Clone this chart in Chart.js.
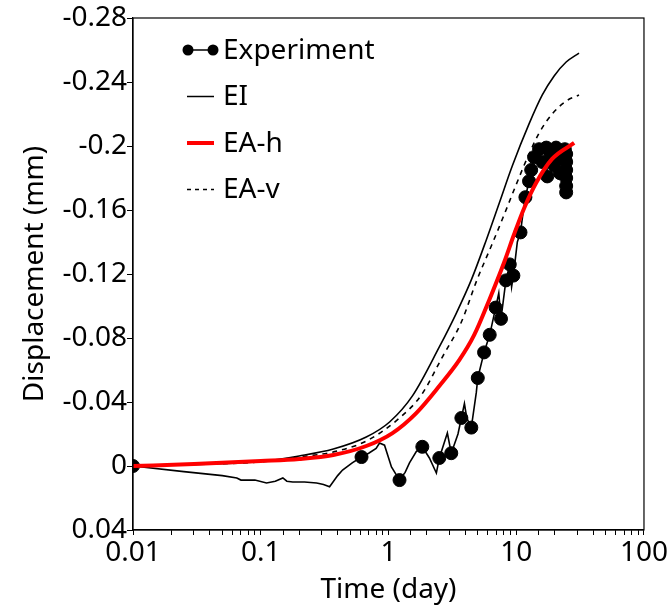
<!DOCTYPE html>
<html>
<head>
<meta charset="utf-8">
<script src="https://cdn.jsdelivr.net/npm/chart.js@4.4.0/dist/chart.umd.min.js"></script>
<style>
  html, body { margin: 0; padding: 0; background: #fff; }
</style>
</head>
<body>
<canvas id="chart" width="669" height="608"></canvas>
<script>
// values
const timeTickValues = [0.01, 0.1, 1, 10, 100];
const timeTickLabels = ["0.01", "0.1", "1", "10", "100"];
const dispTickValues = [-0.28, -0.24, -0.2, -0.16, -0.12, -0.08, -0.04, 0, 0.04];
const dispTickLabels = ["-0.28", "-0.24", "-0.2", "-0.16", "-0.12", "-0.08", "-0.04", "0", "0.04"];

const seriesNames = ["Experiment", "EI", "EA-h", "EA-v"];

// experiment, full trace
const expTime = [0.01, 0.025, 0.05, 0.065, 0.07, 0.09, 0.111, 0.13, 0.149, 0.16, 0.178, 0.22, 0.274, 0.31, 0.346,
  0.40, 0.437, 0.52, 0.615, 0.70, 0.80, 0.851, 0.931, 1.055, 1.22, 1.35, 1.46, 1.65, 1.84, 2.09, 2.37, 2.50,
  2.89, 3.10, 3.5, 3.72, 3.93, 4.1, 4.45, 4.87, 5.0, 5.6, 6.2, 6.9, 7.3, 7.6, 8.3, 8.9, 9.2, 9.5, 10.2, 10.8,
  11.3, 11.8, 12.6, 13.1, 13.8, 15.1, 17.2, 17.5, 18.1, 19.8, 20.5, 22.0, 23.7, 24.2, 24.6, 24.8, 24.6, 24.4];
const expDisp = [0, 0.0035, 0.006, 0.0075, 0.0088, 0.0088, 0.0106, 0.0095, 0.0075, 0.0095, 0.010, 0.010, 0.0106, 0.0115, 0.013,
  0.006, 0.0025, -0.002, -0.0056, -0.008, -0.011, -0.0144, -0.013, 0.0006, 0.0088, 0.004, -0.0019, -0.009, -0.012, -0.005, 0.0044, -0.005,
  -0.0206, -0.008, -0.020, -0.030, -0.039, -0.030, -0.024, -0.046, -0.055, -0.071, -0.082, -0.099, -0.108, -0.092, -0.116, -0.126, -0.112, -0.119, -0.140, -0.146,
  -0.158, -0.168, -0.178, -0.185, -0.193, -0.198, -0.199, -0.181, -0.181, -0.188, -0.199, -0.195, -0.194, -0.187, -0.171, -0.196, -0.175, -0.190];

// experiment, the points that carry a marker
const markTime = [0.01, 0.615, 1.22, 1.84, 2.50, 3.10, 3.72, 4.45, 5.0, 5.6, 6.2, 6.9, 7.6, 8.3, 8.9, 9.5, 10.8, 11.8,
  12.6, 13.1, 13.8, 15.1, 16.0, 17.2, 17.5, 18.5, 19.8, 20.5, 21.0, 22.0, 23.0, 23.7, 24.0, 24.2, 24.6, 24.6, 24.6, 24.6, 24.6, 24.6];
const markDisp = [0, -0.0056, 0.0088, -0.012, -0.005, -0.008, -0.030, -0.024, -0.055, -0.071, -0.082, -0.099, -0.092, -0.116, -0.126, -0.119, -0.146, -0.168,
  -0.178, -0.185, -0.193, -0.198, -0.190, -0.199, -0.181, -0.195, -0.188, -0.199, -0.192, -0.183, -0.197, -0.194, -0.198, -0.192, -0.195, -0.190, -0.185, -0.180, -0.175, -0.171];

const eiTime = [0.01, 0.03, 0.1, 0.2, 0.37, 0.67, 1.02, 1.54, 2.5, 3.4, 4.45, 5.83, 7.37, 9.31, 12.6, 16.0, 19.8, 24.6, 31];
const eiDisp = [0, -0.001, -0.0028, -0.0063, -0.0106, -0.0181, -0.0275, -0.0438, -0.0744, -0.0956, -0.1163, -0.1413, -0.1644, -0.1875, -0.2138, -0.2319, -0.2438, -0.2525, -0.2581];

const eahTime = [0.01, 0.03, 0.1, 0.2, 0.37, 0.67, 1.075, 1.65, 2.5, 3.59, 4.69, 6.15, 8.06, 9.64, 11.55, 14.3, 19.1, 28.4];
const eahDisp = [0, -0.0012, -0.0031, -0.0044, -0.0069, -0.0125, -0.0206, -0.0331, -0.050, -0.0663, -0.0819, -0.1038, -0.1275, -0.145, -0.1613, -0.1769, -0.1919, -0.2019];

const eavTime = [0.01, 0.03, 0.1, 0.2, 0.37, 0.67, 1.22, 1.81, 2.64, 3.72, 4.96, 6.38, 7.91, 9.82, 12.2, 15.1, 19.1, 24.6, 31];
const eavDisp = [0, -0.001, -0.0026, -0.0056, -0.0088, -0.0156, -0.030, -0.0444, -0.0681, -0.090, -0.1169, -0.1375, -0.1556, -0.1744, -0.1925, -0.2081, -0.220, -0.2281, -0.2319];

const FONT = "'Noto Sans'";
const FONT_SIZE = 28;

function toPoints(xs, ys) {
  return xs.map((x, i) => ({x: x, y: ys[i]}));
}

function isDecade(v) {
  const l = Math.log10(v);
  return Math.abs(l - Math.round(l)) < 1e-6;
}

// frame round the plot area
const boxPlugin = {
  id: "box",
  afterDatasetsDraw(chart) {
    const {ctx, chartArea: a} = chart;
    ctx.save();
    ctx.strokeStyle = "#000";
    ctx.lineWidth = 1.2;
    ctx.strokeRect(a.left, a.top, a.right - a.left, a.bottom - a.top);
    ctx.restore();
  }
};

// legend sits inside the plot, top left
const legendPlugin = {
  id: "insideLegend",
  afterDraw(chart) {
    const {ctx, chartArea: a} = chart;
    const x0 = a.left + 54, x1 = a.left + 81, tx = a.left + 90;
    ctx.save();
    ctx.font = FONT_SIZE + "px " + FONT;
    ctx.textBaseline = "middle";
    ctx.fillStyle = "#000";
    seriesNames.forEach((name, i) => {
      const y = a.top + 32 + i * 46.5;
      ctx.beginPath();
      ctx.setLineDash(i === 3 ? [4, 4] : []);
      ctx.strokeStyle = i === 2 ? "#ff0000" : "#000";
      ctx.lineWidth = i === 2 ? 4 : 1.5;
      ctx.moveTo(x0, y);
      ctx.lineTo(x1, y);
      ctx.stroke();
      if (i === 0) {
        ctx.setLineDash([]);
        [x0 + 1, x1 - 1].forEach(px => {
          ctx.beginPath();
          ctx.arc(px, y, 5.5, 0, Math.PI * 2);
          ctx.fill();
        });
      }
      ctx.setLineDash([]);
      ctx.fillText(name, tx, y + 1);
    });
    ctx.restore();
  }
};

const ctx = document.getElementById("chart").getContext("2d");
new Chart(ctx, {
  type: "scatter",
  data: {
    datasets: [
      {
        label: "EA-h",
        data: toPoints(eahTime, eahDisp),
        showLine: true,
        borderColor: "#ff0000",
        borderWidth: 4,
        pointRadius: 0,
        cubicInterpolationMode: "monotone",
        order: 0
      },
      {
        label: "Experiment markers",
        data: toPoints(markTime, markDisp),
        showLine: false,
        pointRadius: 6.5,
        pointBackgroundColor: "#000",
        pointBorderColor: "#000",
        order: 1
      },
      {
        label: "Experiment",
        data: toPoints(expTime, expDisp),
        showLine: true,
        borderColor: "#000",
        borderWidth: 1.6,
        pointRadius: 0,
        order: 2
      },
      {
        label: "EI",
        data: toPoints(eiTime, eiDisp),
        showLine: true,
        borderColor: "#000",
        borderWidth: 1.6,
        pointRadius: 0,
        cubicInterpolationMode: "monotone",
        order: 3
      },
      {
        label: "EA-v",
        data: toPoints(eavTime, eavDisp),
        showLine: true,
        borderColor: "#000",
        borderWidth: 1.6,
        borderDash: [5, 5],
        pointRadius: 0,
        cubicInterpolationMode: "monotone",
        order: 4
      }
    ]
  },
  options: {
    responsive: false,
    animation: false,
    layout: {padding: {top: 18, right: 24, left: 0, bottom: 0}},
    plugins: {
      legend: {display: false},
      tooltip: {enabled: false}
    },
    scales: {
      x: {
        type: "logarithmic",
        min: 0.01,
        max: 100,
        afterFit(scale) { scale.height = 78; },
        border: {display: true, color: "#000", width: 1.2},
        grid: {display: true, drawOnChartArea: false, drawTicks: true, tickLength: 5, color: "#000", lineWidth: 1},
        ticks: {
          autoSkip: false,
          maxRotation: 0,
          padding: 1,
          color: "#000",
          font: {family: FONT, size: FONT_SIZE},
          callback(value) {
            if (!isDecade(value)) return "";
            const idx = timeTickValues.findIndex(v => Math.abs(Math.log10(v) - Math.log10(value)) < 1e-6);
            return idx >= 0 ? timeTickLabels[idx] : "";
          }
        },
        title: {
          display: true,
          text: "Time (day)",
          color: "#000",
          font: {family: FONT, size: FONT_SIZE},
          padding: {top: 0, bottom: 1}
        }
      },
      y: {
        type: "linear",
        min: -0.28,
        max: 0.04,
        reverse: true,
        afterFit(scale) { scale.width = 133; },
        afterBuildTicks(scale) {
          scale.ticks = dispTickValues.map(v => ({value: v}));
        },
        border: {display: true, color: "#000", width: 1.2},
        grid: {display: true, drawOnChartArea: false, drawTicks: true, tickLength: 6, color: "#000", lineWidth: 1},
        ticks: {
          padding: 0,
          color: "#000",
          font: {family: FONT, size: FONT_SIZE},
          callback(value) {
            const idx = dispTickValues.findIndex(v => Math.abs(v - value) < 1e-9);
            return idx >= 0 ? dispTickLabels[idx] : "";
          }
        },
        title: {
          display: true,
          text: "Displacement (mm)",
          color: "#000",
          font: {family: FONT, size: FONT_SIZE},
          padding: {top: 18, bottom: 0}
        }
      }
    }
  },
  plugins: [boxPlugin, legendPlugin]
});
</script>
</body>
</html>
